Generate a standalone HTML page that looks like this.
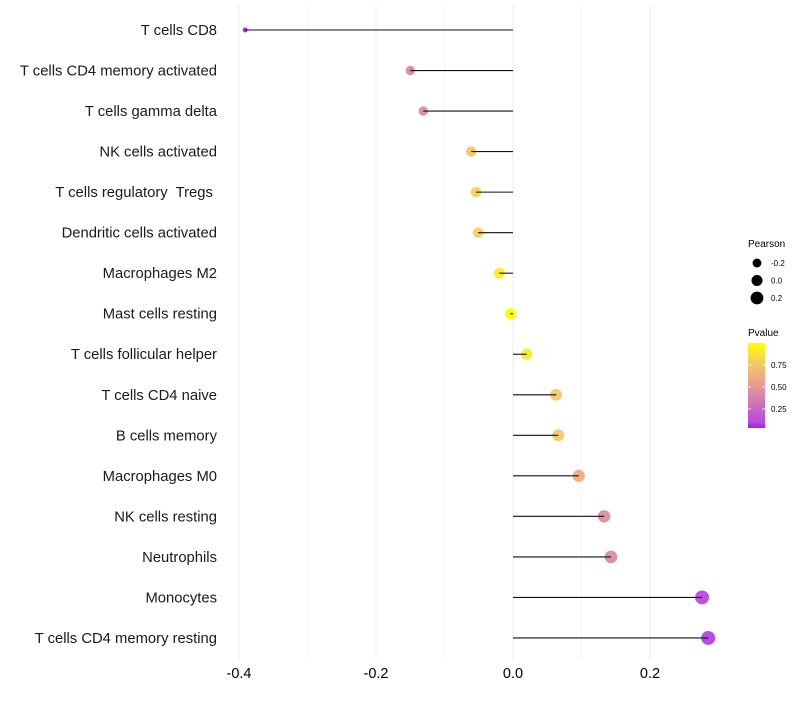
<!DOCTYPE html>
<html><head><meta charset="utf-8"><style>
body{margin:0;background:#fff;font-family:"Liberation Sans",sans-serif}
</style></head><body>
<svg id="c" width="800" height="700" xmlns="http://www.w3.org/2000/svg">
<defs><linearGradient id="pg" x1="0" y1="1" x2="0" y2="0">
<stop offset="0" stop-color="#a020f0"/><stop offset="0.07" stop-color="#b84ade"/><stop offset="0.43" stop-color="#de8da0"/><stop offset="0.59" stop-color="#eeab80"/><stop offset="0.75" stop-color="#f3c86a"/><stop offset="1" stop-color="#ffff00"/></linearGradient></defs>
</svg>
<script>
const categories=["T cells CD8","T cells CD4 memory activated","T cells gamma delta","NK cells activated","T cells regulatory  Tregs ","Dendritic cells activated","Macrophages M2","Mast cells resting","T cells follicular helper","T cells CD4 naive","B cells memory","Macrophages M0","NK cells resting","Neutrophils","Monocytes","T cells CD4 memory resting"];
const pearson=[-0.391,-0.150,-0.131,-0.061,-0.054,-0.051,-0.020,-0.004,0.020,0.063,0.066,0.096,0.133,0.143,0.276,0.285];
const pvalue=[0.04,0.42,0.44,0.76,0.80,0.80,0.93,1.0,0.92,0.76,0.76,0.60,0.46,0.43,0.10,0.09];
const xTicks=[-0.4,-0.2,0,0.2];
const xMinor=[-0.3,-0.1,0.1];
const sizeTicks=[-0.2,0,0.2];
const pTicks=[0.25,0.5,0.75];

const NS="http://www.w3.org/2000/svg",svg=document.getElementById('c');
function mk(t,a,p){const e=document.createElementNS(NS,t);for(const k in a)e.setAttribute(k,a[k]);(p||svg).appendChild(e);return e;}
const xs=v=>513+(v-0)*685;
const ys=i=>30+i*40.53;
const rs=v=>Math.sqrt(6.25+42.75*(v+0.391)/0.676);
function lerp(a,b,t){return a.map((x,i)=>Math.round(x+(b[i]-x)*t));}
const stops=[[0,[160,32,240]],[0.07,[184,74,222]],[0.43,[222,141,160]],[0.59,[238,171,128]],[0.75,[243,200,106]],[1,[255,255,0]]];
function col(p){const t=(p-0.034)/(1-0.034);if(t<=0)return 'rgb(160,32,240)';for(let i=1;i<stops.length;i++){if(t<=stops[i][0]){const a=stops[i-1],b=stops[i];const c=lerp(a[1],b[1],(t-a[0])/(b[0]-a[0]));return `rgb(${c})`;}}return 'rgb(255,255,0)';}
xMinor.forEach(v=>{const l=mk('line',{x1:xs(v),x2:xs(v),y1:5,y2:660,stroke:'#f6f6f6','stroke-width':1});
});
xTicks.forEach(v=>{const l=mk('line',{x1:xs(v),x2:xs(v),y1:5,y2:660,stroke:'#eeeeee','stroke-width':1});

const t=mk('text',{x:xs(v),y:678,'text-anchor':'middle','font-size':14.5,fill:'#000'});t.textContent=v===0?'0.0':v.toFixed(1);
});
categories.forEach((c,i)=>{const y=ys(i);
const t=mk('text',{x:217,y:y+5,'text-anchor':'end','font-size':14.8,fill:'#1a1a1a'});t.textContent=c;
t.setAttribute('xml:space','preserve');t.style.whiteSpace='pre';

const d=mk('circle',{cx:xs(pearson[i]),cy:y,r:rs(pearson[i]),fill:col(pvalue[i]),'fill-opacity':0.95});

const l=mk('line',{x1:xs(0),x2:xs(pearson[i]),y1:y,y2:y,stroke:'#111','stroke-width':1.1});
});
// legends
let t=mk('text',{x:748,y:247,'font-size':10});t.textContent='Pearson';

sizeTicks.forEach((v,i)=>{const y=263+i*17.5;const c=mk('circle',{cx:757,cy:y,r:rs(v)*0.85+0.8,fill:'#000'});

const tt=mk('text',{x:771,y:y+3,'font-size':8});tt.textContent=v===0?'0.0':v.toFixed(1);
});
t=mk('text',{x:748,y:336,'font-size':10});t.textContent='Pvalue';

const bar=mk('rect',{x:748,y:343,width:17,height:85,fill:'url(#pg)'});

const py=p=>428-(p-0.034)/(1-0.034)*85;
pTicks.forEach(p=>{const y=py(p);
mk('line',{x1:748,x2:751,y1:y,y2:y,stroke:'#fff','stroke-width':0.8});mk('line',{x1:762,x2:765,y1:y,y2:y,stroke:'#fff','stroke-width':0.8});
const tt=mk('text',{x:771,y:y+3,'font-size':8});tt.textContent=p.toFixed(2);
});
</script>
</body></html>
